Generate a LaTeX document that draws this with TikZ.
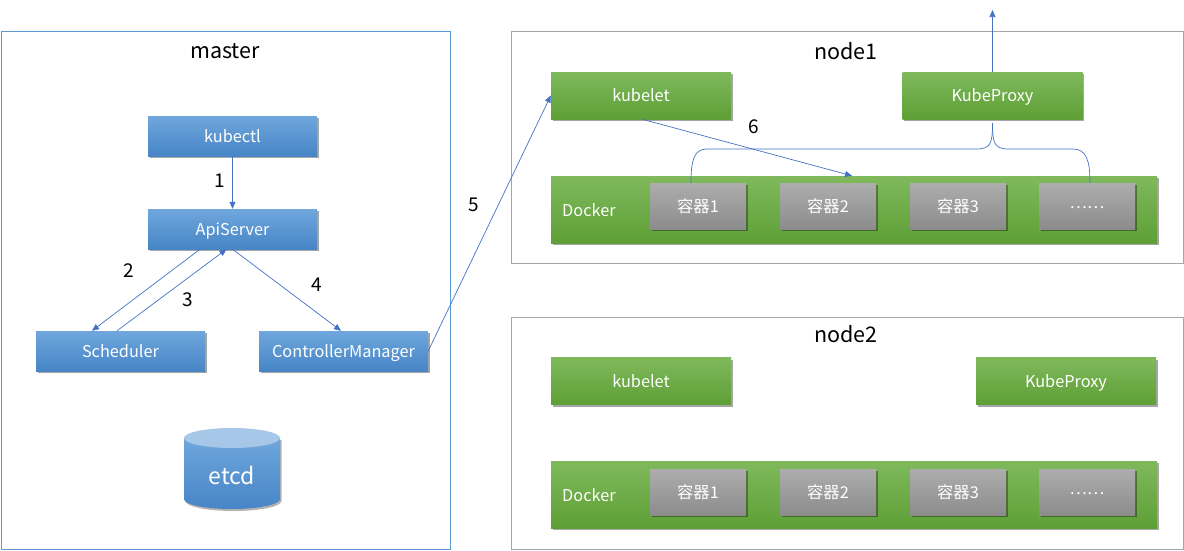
\documentclass[tikz,border=0pt]{standalone}
\usepackage{fontspec}
\setmainfont{Noto Sans CJK SC}
\usetikzlibrary{shadows,arrows.meta}
\definecolor{bTop}{HTML}{6FA7DD}
\definecolor{bBot}{HTML}{4785C6}
\definecolor{gTop}{HTML}{7FB95C}
\definecolor{gBot}{HTML}{5E9F36}
\definecolor{kTop}{HTML}{ADADAD}
\definecolor{kBot}{HTML}{8C8C8C}
\definecolor{lineblue}{HTML}{4472C4}
\definecolor{frameblue}{HTML}{5B9BD5}
\definecolor{framegrey}{HTML}{A6A6A6}
\definecolor{cylTop}{HTML}{A7C7E8}
\tikzset{
  box/.style={inner sep=0pt, text=white, font=\fontsize{16.3}{18}\selectfont,
    text height=13pt, text depth=1pt,
    drop shadow={shadow xshift=1.5pt, shadow yshift=-2pt, opacity=0.35, fill=black}},
  bluebox/.style={box, top color=bTop, bottom color=bBot, minimum width=169pt, minimum height=40pt},
  greenbox/.style={box, top color=gTop, bottom color=gBot, minimum width=180pt, minimum height=47pt},
  dockerbox/.style={box, top color=gTop, bottom color=gBot, minimum width=606pt, minimum height=67pt},
  greybox/.style={box, top color=kTop, bottom color=kBot, minimum width=96pt, minimum height=46pt},
  title/.style={font=\fontsize{21.5}{23}\selectfont, text=black},
  num/.style={font=\fontsize{19}{21}\selectfont, text=black},
  conn/.style={draw=lineblue, line width=0.7pt},
  arr/.style={conn, -{Triangle[length=7pt,width=6pt]}},
}
\newcommand{\middots}{\raisebox{4pt}{……}}
\begin{document}
\begin{tikzpicture}[x=1pt,y=-1pt]
\useasboundingbox (0,0) rectangle (1184,550);
% frames
\draw[frameblue, line width=0.8pt] (1,31) rectangle (450,549);
\draw[framegrey, line width=0.8pt] (511,31) rectangle (1183,263);
\draw[framegrey, line width=0.8pt] (511,317) rectangle (1183,549);
\node[title] (tmaster) at (225,51) {master};
\node[title] (tnode1) at (846,51) {node1};
\node[title] (tnode2) at (846,334) {node2};
% master
\node[bluebox] (kubectl) at (232.5,136) {kubectl};
\node[bluebox] (api) at (232.5,229) {ApiServer};
\node[bluebox] (sched) at (120.5,351) {Scheduler};
\node[bluebox] (cm) at (343.5,351) {ControllerManager};
% etcd cylinder
\fill[black, opacity=0.3] (185.5,440) -- (185.5,501) arc[start angle=180, end angle=0, x radius=48, y radius=10] -- (281.5,440) -- cycle;
\shade[top color=bTop, bottom color=bBot] (184,438) -- (184,499) arc[start angle=180, end angle=0, x radius=48, y radius=10] -- (280,438) -- cycle;
\fill[cylTop] (232,438) ellipse[x radius=48, y radius=10];
\node[text=white, font=\fontsize{23}{25}\selectfont] (etcd) at (232,475) {etcd};
% node1
\node[greenbox] (kubelet1) at (641,95.5) {kubelet};
\node[greenbox] (proxy1) at (992.5,95.5) {KubeProxy};
\node[dockerbox] (docker1) at (854,209.5) {};
\node[text=white, font=\fontsize{16.3}{18}\selectfont, anchor=west, text height=13pt, text depth=1pt, inner sep=0pt] (dl1) at (562,210) {Docker};
\node[greybox] (c11) at (698,206) {容器1};
\node[greybox] (c12) at (828,206) {容器2};
\node[greybox] (c13) at (958,206) {容器3};
\node[greybox] (c14) at (1087,206) {\middots};
% node2
\node[greenbox] (kubelet2) at (641,381) {kubelet};
\node[greenbox] (proxy2) at (1066,381) {KubeProxy};
\node[dockerbox] (docker2) at (854,494.5) {};
\node[text=white, font=\fontsize{16.3}{18}\selectfont, anchor=west, text height=13pt, text depth=1pt, inner sep=0pt] (dl2) at (562,495) {Docker};
\node[greybox] (c21) at (698,492) {容器1};
\node[greybox] (c22) at (828,492) {容器2};
\node[greybox] (c23) at (958,492) {容器3};
\node[greybox] (c24) at (1087,492) {\middots};
% connectors
\draw[arr] (kubectl.south) -- (api.north);
\node[num] (n1) at (220,181) {1};
\draw[arr] ([xshift=-32.5pt]api.south) -- ([xshift=-28.5pt]sched.north);
\node[num] (n2) at (129,271) {2};
\draw[arr] ([xshift=-3.5pt]sched.north) -- ([xshift=-6pt]api.south);
\node[num] (n3) at (188,300) {3};
\draw[arr] (api.south) -- ([xshift=-2.5pt]cm.north);
\node[num] (n4) at (317,285) {4};
\draw[arr] (cm.east) -- (kubelet1.west);
\node[num] (n5) at (474,205) {5};
\draw[arr] ([xshift=1pt]kubelet1.south) -- ([xshift=-2pt]docker1.north);
\node[num] (n6) at (754,127) {6};
\coordinate (up) at (992.5,10);
\draw[arr] (proxy1.north) -- (up);
\draw[conn] ([yshift=-4pt]proxy1.south) .. controls (992.5,143) and (991,149) .. (976,149) -- (707,149) .. controls (694,149) and (691,160) .. ([xshift=-7pt]c11.north);
\draw[conn] ([yshift=-4pt]proxy1.south) .. controls (992.5,143) and (994,149) .. (1009,149) -- (1073,149) .. controls (1086,149) and (1090,160) .. ([xshift=3pt]c14.north);
\end{tikzpicture}
\end{document}
